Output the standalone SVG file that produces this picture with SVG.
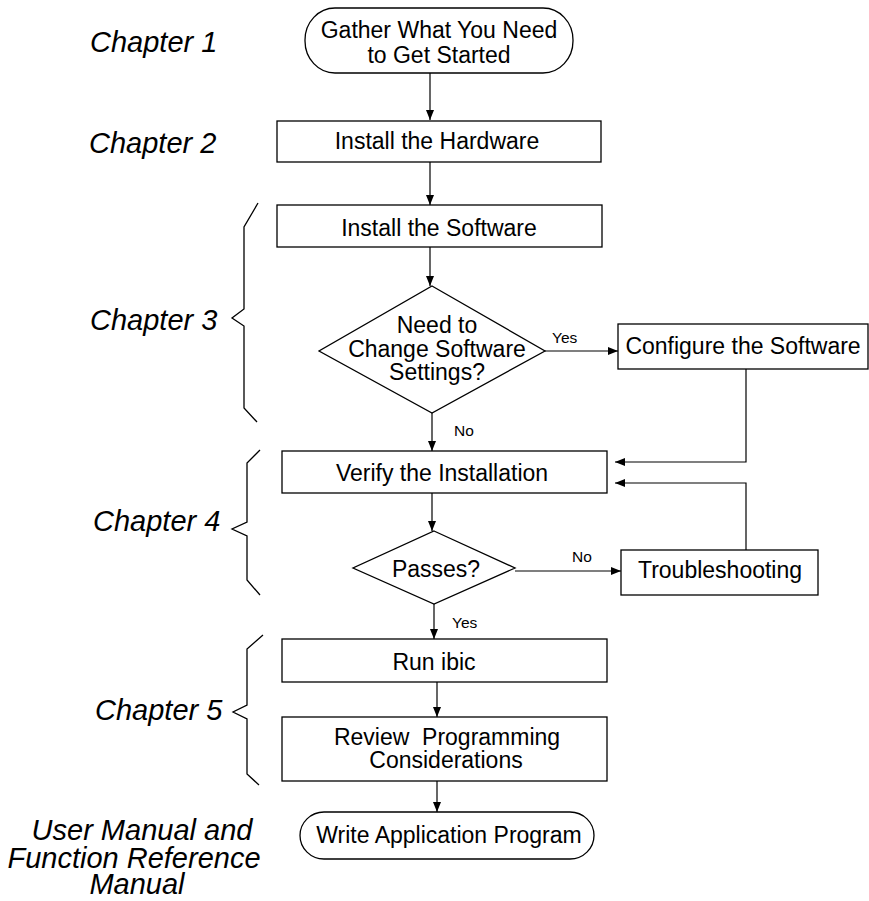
<svg xmlns="http://www.w3.org/2000/svg" width="869" height="901" viewBox="0 0 869 901">
  <style>
    text { font-family: "Liberation Sans", Arial, sans-serif; fill: #000; }
    .node { fill: #fff; stroke: #000; stroke-width: 1.3; }
    .lbl { font-size: 23px; text-anchor: middle; }
    .small { font-size: 15.5px; }
    .chap { font-size: 29px; font-style: italic; }
    .chapc { font-size: 29px; font-style: italic; text-anchor: middle; }
    .wire { fill: none; stroke: #000; stroke-width: 1.2; }
    .brace { fill: none; stroke: #000; stroke-width: 1.3; stroke-linejoin: miter; }
  </style>
  <defs>
    <marker id="arrow" viewBox="0 0 10 8" refX="10" refY="4" markerWidth="10" markerHeight="8" markerUnits="userSpaceOnUse" orient="auto">
      <path d="M0,0 L10,4 L0,8 Z" fill="#000"/>
    </marker>
  </defs>

  <!-- chapter labels -->
  <g id="chapters">
    <text class="chap" x="90" y="52">Chapter 1</text>
    <text class="chap" x="89" y="153">Chapter 2</text>
    <text class="chap" x="90" y="330">Chapter 3</text>
    <text class="chap" x="93" y="531">Chapter 4</text>
    <text class="chap" x="95" y="720">Chapter 5</text>
    <text class="chapc" x="142" y="840">User Manual and</text>
    <text class="chapc" x="134" y="868">Function Reference</text>
    <text class="chapc" x="137" y="894">Manual</text>
  </g>

  <!-- braces grouping the steps of each chapter -->
  <g id="braces">
    <path class="brace" d="M258,203 L244,227 L244,309 L232,318 L244,326 L244,408 L257,422"/>
    <path class="brace" d="M260,450 L247,463 L247,522 L232,529 L247,536 L247,580 L260,595"/>
    <path class="brace" d="M263,635 L247,649 L247,705 L233,712 L247,719 L247,774 L259,785"/>
  </g>

  <!-- connectors -->
  <g id="connectors">
    <line class="wire" x1="430" y1="73" x2="430" y2="120" marker-end="url(#arrow)"/>
    <line class="wire" x1="430" y1="162" x2="430" y2="205" marker-end="url(#arrow)"/>
    <line class="wire" x1="430" y1="247" x2="430" y2="286" marker-end="url(#arrow)"/>
    <line class="wire" x1="432" y1="413" x2="432" y2="451" marker-end="url(#arrow)"/>
    <text class="small" x="454" y="436">No</text>
    <line class="wire" x1="545" y1="351" x2="618" y2="351" marker-end="url(#arrow)"/>
    <text class="small" x="552" y="343">Yes</text>
    <polyline class="wire" points="746,369 746,462 615,462" marker-end="url(#arrow)"/>
    <polyline class="wire" points="746,550 746,483 615,483" marker-end="url(#arrow)"/>
    <line class="wire" x1="432" y1="493" x2="432" y2="531" marker-end="url(#arrow)"/>
    <line class="wire" x1="515" y1="571" x2="621" y2="571" marker-end="url(#arrow)"/>
    <text class="small" x="572" y="562">No</text>
    <line class="wire" x1="434" y1="604" x2="434" y2="639" marker-end="url(#arrow)"/>
    <text class="small" x="452" y="628">Yes</text>
    <line class="wire" x1="437" y1="682" x2="437" y2="717" marker-end="url(#arrow)"/>
    <line class="wire" x1="437" y1="781" x2="437" y2="812" marker-end="url(#arrow)"/>
  </g>

  <!-- nodes -->
  <g id="start">
    <rect class="node" x="305" y="8" width="268" height="65" rx="30" ry="32"/>
    <text class="lbl" x="439" y="38">Gather What You Need</text>
    <text class="lbl" x="439" y="63">to Get Started</text>
  </g>
  <g id="install-hardware">
    <rect class="node" x="277" y="121" width="324" height="41"/>
    <text class="lbl" x="437" y="149">Install the Hardware</text>
  </g>
  <g id="install-software">
    <rect class="node" x="277" y="205" width="325" height="42"/>
    <text class="lbl" x="439" y="236">Install the Software</text>
  </g>
  <g id="change-settings">
    <polygon class="node" points="432,286 545,351 432,413 319,351"/>
    <text class="lbl" x="437" y="333">Need to</text>
    <text class="lbl" x="437" y="357">Change Software</text>
    <text class="lbl" x="437" y="380">Settings?</text>
  </g>
  <g id="configure">
    <rect class="node" x="618" y="324" width="250" height="45"/>
    <text class="lbl" x="743" y="354">Configure the Software</text>
  </g>
  <g id="verify">
    <rect class="node" x="282" y="451" width="325" height="42"/>
    <text class="lbl" x="442" y="481">Verify the Installation</text>
  </g>
  <g id="passes">
    <polygon class="node" points="434,531 515,568 434,604 353,568"/>
    <text class="lbl" x="436" y="577">Passes?</text>
  </g>
  <g id="troubleshooting">
    <rect class="node" x="621" y="550" width="197" height="45"/>
    <text class="lbl" x="720" y="578">Troubleshooting</text>
  </g>
  <g id="run-ibic">
    <rect class="node" x="282" y="639" width="325" height="43"/>
    <text class="lbl" x="434" y="670">Run ibic</text>
  </g>
  <g id="review">
    <rect class="node" x="282" y="717" width="325" height="64"/>
    <text class="lbl" x="447" y="745" xml:space="preserve">Review  Programming</text>
    <text class="lbl" x="446" y="768">Considerations</text>
  </g>
  <g id="write-program">
    <rect class="node" x="300" y="812" width="294" height="47" rx="24" ry="23.5"/>
    <text class="lbl" x="449" y="843">Write Application Program</text>
  </g>
</svg>
